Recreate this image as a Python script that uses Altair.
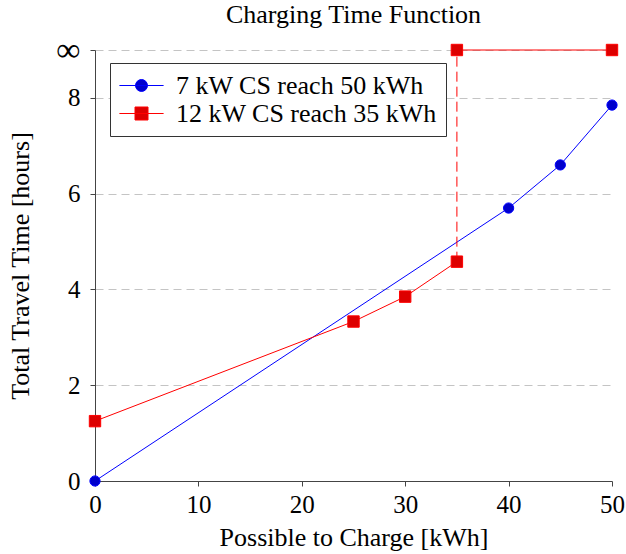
import altair as alt
import pandas as pd

# ---- data ----
INF = 9  # position used for the "infinity" level
blue_name = "7 kW CS reach 50 kWh"
red_name = "12 kW CS reach 35 kWh"

blue_x = [0, 40, 45, 50]
blue_y = [0.0, 5.70, 6.60, 7.85]

red_x = [0, 25, 30, 35]
red_y = [1.25, 3.33, 3.85, 4.58]

red_inf_x = [35, 50]
red_inf_y = [INF, INF]

x_ticks = [0, 10, 20, 30, 40, 50]
y_ticks = [0, 2, 4, 6, 8, INF]

FONT = "Liberation Serif"

# ---- tables ----
blue_df = pd.DataFrame({"x": blue_x, "y": blue_y, "series": blue_name, "seg": "b"})
red_df = pd.DataFrame({"x": red_x, "y": red_y, "series": red_name, "seg": "r1"})
red_inf_df = pd.DataFrame({"x": red_inf_x, "y": red_inf_y, "series": red_name, "seg": "r2"})
red_pts = pd.concat([red_df, red_inf_df], ignore_index=True)
all_pts = pd.concat([blue_df, red_pts], ignore_index=True)
rule_df = pd.DataFrame({"x": [red_x[-1]], "y": [red_y[-1]], "y2": [INF]})

names = [blue_name, red_name]
line_cols = ["#0000ff", "#ff0000"]
fill_cols = ["#0000cc", "#dd0000"]
# legend glyphs: line segment plus marker (unit = 13 px)
circle_path = "M-1.7,0H1.7M-0.46,0A0.46,0.46 0 1,1 0.46,0A0.46,0.46 0 1,1 -0.46,0Z"
square_path = "M-1.7,0H1.7M-0.5,-0.5H0.5V0.5H-0.5Z"

xs = alt.Scale(domain=[0, 50], nice=False, zero=False)
ys = alt.Scale(domain=[0, INF], nice=False, zero=False)

x_axis = alt.Axis(values=x_ticks, title="Possible to Charge [kWh]", grid=False,
                  labelFontSize=25, labelPadding=6, tickSize=5, labelFlush=False,
                  titleFontSize=26, titleY=64, titleBaseline="alphabetic")
y_axis = alt.Axis(values=y_ticks, title="Total Travel Time [hours]", grid=True,
                  gridDash=[8, 5], gridColor="#c4c4c4", gridWidth=1, labelFlush=False,
                  labelExpr="datum.value == 9 ? '∞' : datum.label",
                  labelFontSize={"condition": {"test": "datum.value == 9", "value": 34}, "value": 25},
                  labelPadding=10, tickSize=5,
                  titleFontSize=26, titleX=-67, titleBaseline="alphabetic")

blue_line = alt.Chart(blue_df).mark_line(strokeWidth=1, color="#0000ff").encode(
    x=alt.X("x:Q", scale=xs, axis=x_axis),
    y=alt.Y("y:Q", scale=ys, axis=y_axis),
    order="x:Q",
)
red_line = alt.Chart(red_pts).mark_line(strokeWidth=1, color="#ff0000").encode(
    x=alt.X("x:Q", scale=xs), y=alt.Y("y:Q", scale=ys),
    detail="seg:N", order="x:Q",
)

rule = alt.Chart(rule_df).mark_rule(color="#ff0000", strokeWidth=1, strokeDash=[10, 5]).encode(
    x=alt.X("x:Q", scale=xs), y=alt.Y("y:Q", scale=ys), y2="y2:Q"
)

blue_pts = alt.Chart(blue_df).mark_point(shape="circle", filled=True, size=105,
                                         fill="#0000cc", stroke="#0000ff", strokeWidth=1,
                                         opacity=1).encode(
    x=alt.X("x:Q", scale=xs), y=alt.Y("y:Q", scale=ys)
)
red_sq = alt.Chart(red_pts).mark_point(shape="square", filled=True, size=130,
                                       fill="#dd0000", stroke="#ff0000", strokeWidth=1,
                                       opacity=1).encode(
    x=alt.X("x:Q", scale=xs), y=alt.Y("y:Q", scale=ys)
)

leg = alt.Legend(title=None, orient="none", legendX=15, legendY=13,
                 symbolSize=676, symbolOpacity=1, symbolStrokeWidth=1, symbolOffset=9,
                 labelFontSize=26, labelFont=FONT, labelColor="black",
                 labelOffset=21, padding=9, rowPadding=1,
                 strokeColor="#333333", fillColor="white", labelLimit=400)

legend_layer = alt.Chart(all_pts).mark_point(filled=True, opacity=0, strokeWidth=1).encode(
    x=alt.X("x:Q", scale=xs), y=alt.Y("y:Q", scale=ys),
    fill=alt.Fill("series:N", scale=alt.Scale(domain=names, range=fill_cols), legend=leg),
    stroke=alt.Stroke("series:N", scale=alt.Scale(domain=names, range=line_cols), legend=leg),
    shape=alt.Shape("series:N", scale=alt.Scale(domain=names, range=[circle_path, square_path]),
                    legend=leg),
)

chart = alt.layer(blue_line, red_line, rule, blue_pts, red_sq, legend_layer).properties(
    width=517, height=431,
    background="white",
    title=alt.TitleParams("Charging Time Function", font=FONT, fontSize=26,
                          fontWeight="normal", color="black", anchor="middle",
                          baseline="alphabetic", offset=15, dy=31),
    autosize=alt.AutoSizeParams(type="none"),
    padding={"left": 95, "top": 50, "right": 14, "bottom": 73},
).configure_view(stroke=None).configure_axis(
    labelFont=FONT, titleFont=FONT, labelColor="black", titleColor="black",
    titleFontWeight="normal", domainColor="#444444", tickColor="#444444",
    domainWidth=1, tickWidth=1,
)

chart.save("out.html", embed_options={"renderer": "svg", "actions": False})
